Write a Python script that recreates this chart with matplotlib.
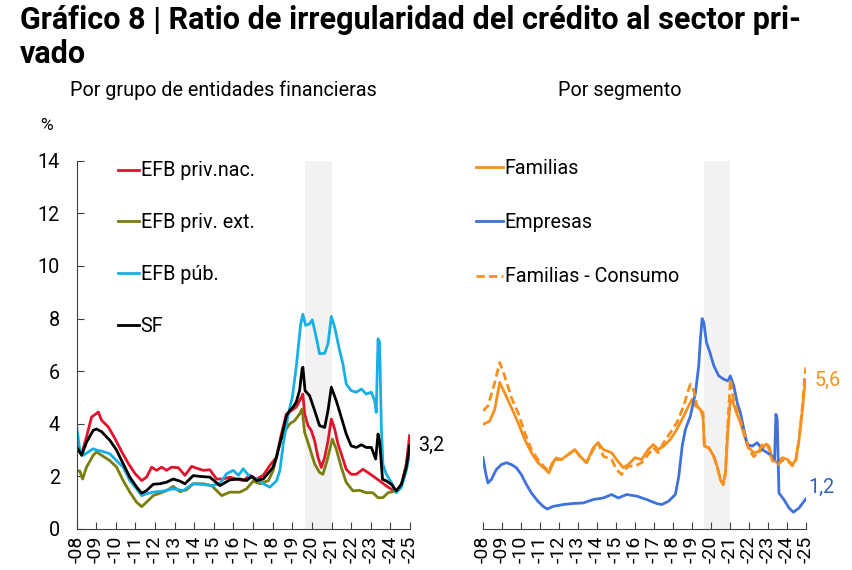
import numpy as np
import matplotlib.pyplot as plt

plt.rcParams['font.family'] = ['Roboto', 'DejaVu Sans']

# eje temporal: años desde ene-2008
years = list(range(2008, 2026))
tick_labels = ['-%02d' % (y % 100) for y in years]
covid = (2019.65, 2021.0)

# Por grupo de entidades financieras
nac_t = [0.0, 0.26, 0.51, 0.77, 1.02, 1.11, 1.28, 1.62, 1.96, 2.31, 2.65, 2.99, 3.32, 3.57, 3.83, 4.08, 4.34, 4.59, 4.85, 5.19,
         5.53, 5.87, 6.21, 6.46, 6.8, 7.14, 7.48, 7.82, 8.16, 8.5, 8.84, 9.18, 9.52, 9.86, 10.19, 10.44, 10.7, 10.95, 11.2, 11.46,
         11.54, 11.63, 11.8, 11.97, 12.14, 12.31, 12.48, 12.65, 12.82, 12.99, 13.16, 13.33, 13.5, 13.75, 14.0, 14.26, 14.6, 14.85, 15.1, 15.45,
         15.79, 16.05, 16.3, 16.56, 16.81, 16.98]
nac_v = [3.12, 2.86, 3.5, 4.26, 4.39, 4.45, 4.13, 3.88, 3.44, 2.93, 2.48, 2.1, 1.84, 1.97, 2.35, 2.23, 2.35, 2.23, 2.35, 2.33,
         2.04, 2.38, 2.29, 2.23, 2.25, 1.9, 1.9, 1.97, 1.9, 1.84, 2.04, 1.9, 2.04, 2.42, 2.72, 3.6, 4.37, 4.5, 4.63, 5.0,
         5.13, 4.37, 3.93, 3.74, 3.35, 2.72, 2.34, 2.72, 3.35, 4.18, 3.8, 3.23, 2.85, 2.27, 2.08, 2.08, 2.27, 2.15, 2.02, 1.83,
         1.64, 1.51, 1.45, 1.64, 2.47, 3.55]

ext_t = [0.0, 0.17, 0.31, 0.51, 0.85, 1.02, 1.28, 1.7, 2.04, 2.38, 2.72, 3.06, 3.32, 3.57, 3.91, 4.25, 4.59, 4.93, 5.27, 5.61,
         5.95, 6.46, 6.89, 7.4, 7.82, 8.33, 8.67, 9.01, 9.35, 9.78, 10.03, 10.29, 10.54, 10.87, 11.12, 11.37, 11.5, 11.63, 11.88, 12.14,
         12.39, 12.56, 12.77, 13.04, 13.24, 13.5, 13.75, 14.09, 14.43, 14.77, 15.1, 15.37, 15.62, 15.88, 16.13, 16.39, 16.64, 16.98]
ext_v = [2.23, 2.2, 1.9, 2.35, 2.8, 2.93, 2.8, 2.6, 2.35, 1.84, 1.4, 1.02, 0.85, 1.02, 1.27, 1.36, 1.46, 1.62, 1.42, 1.49,
         1.72, 1.72, 1.65, 1.27, 1.4, 1.4, 1.53, 1.82, 1.72, 1.84, 2.23, 3.05, 3.63, 4.0, 4.12, 4.37, 4.56, 3.67, 3.1, 2.47,
         2.15, 2.08, 2.59, 3.42, 3.04, 2.34, 1.77, 1.45, 1.47, 1.38, 1.38, 1.19, 1.19, 1.38, 1.42, 1.47, 1.83, 3.1]

pub_t = [0.0, 0.17, 0.34, 0.6, 0.85, 1.02, 1.28, 1.7, 2.04, 2.38, 2.72, 3.06, 3.32, 3.57, 3.91, 4.42, 4.93, 5.44, 5.95, 6.46,
         6.89, 7.31, 7.65, 7.99, 8.25, 8.5, 8.84, 9.18, 9.52, 9.86, 10.2, 10.37, 10.54, 10.8, 11.0, 11.2, 11.43, 11.54, 11.68, 11.88,
         12.02, 12.22, 12.39, 12.65, 12.82, 12.99, 13.16, 13.41, 13.58, 13.75, 14.0, 14.26, 14.52, 14.77, 15.03, 15.2, 15.28, 15.37, 15.45, 15.54,
         15.62, 15.79, 16.05, 16.3, 16.56, 16.81, 16.98]
pub_v = [3.95, 3.0, 2.8, 2.93, 3.05, 3.0, 2.96, 2.86, 2.6, 2.35, 1.84, 1.53, 1.27, 1.34, 1.4, 1.44, 1.53, 1.46, 1.72, 1.69,
         1.65, 1.72, 2.1, 2.23, 2.04, 2.29, 1.97, 1.9, 1.72, 1.59, 1.84, 2.23, 3.24, 4.39, 5.0, 6.15, 7.8, 8.16, 7.74, 7.8,
         7.95, 7.29, 6.66, 6.68, 7.04, 8.08, 7.67, 6.79, 6.28, 5.51, 5.26, 5.2, 5.32, 5.13, 5.2, 4.88, 4.43, 7.23, 7.1, 3.86,
         2.46, 2.08, 1.77, 1.38, 1.58, 2.21, 2.85]

sf_t = [0.0, 0.26, 0.51, 0.85, 1.02, 1.28, 1.70, 2.04, 2.38, 2.72, 3.06, 3.32, 3.57, 3.91, 4.25, 4.59, 4.93, 5.27, 5.53, 5.95,
        6.29, 6.80, 7.31, 7.82, 8.33, 8.67, 8.93, 9.18, 9.52, 9.86, 10.02, 10.2, 10.45, 10.7, 10.87, 11.05, 11.2, 11.37, 11.5, 11.54,
        11.65, 11.88, 12.14, 12.39, 12.65, 12.82, 12.99, 13.24, 13.5, 13.75, 14.0, 14.26, 14.52, 14.77, 15.03, 15.25, 15.37, 15.45, 15.6, 15.79,
        16.05, 16.3, 16.56, 16.81, 16.98]
sf_v = [3.14, 2.8, 3.3, 3.75, 3.8, 3.7, 3.37, 3.0, 2.48, 1.97, 1.6, 1.36, 1.46, 1.7, 1.72, 1.78, 1.9, 1.82, 1.72, 2.03,
        2.0, 1.97, 1.65, 1.87, 1.9, 1.84, 2.0, 1.84, 1.9, 2.2, 2.35, 2.75, 3.5, 4.3, 4.5, 4.65, 4.82, 5.26, 6.09, 6.15,
        5.26, 5.07, 4.5, 3.93, 3.86, 4.5, 5.39, 4.88, 4.24, 3.61, 3.16, 3.1, 3.2, 3.1, 3.1, 2.66, 3.61, 3.35, 1.89, 1.83,
        1.7, 1.45, 1.7, 2.34, 3.16]

# Por segmento
fam_t = [0.0, 0.35, 0.62, 0.88, 1.14, 1.5, 1.85, 2.2, 2.55, 2.9, 3.26, 3.47, 3.78, 4.14, 4.49, 4.84, 5.11, 5.46, 5.81, 6.07,
         6.34, 6.78, 7.04, 7.39, 7.66, 8.01, 8.36, 8.71, 8.98, 9.24, 9.52, 9.87, 10.22, 10.58, 10.84, 11.02, 11.2, 11.46, 11.6, 11.67,
         11.9, 12.16, 12.34, 12.51, 12.66, 12.78, 12.9, 13.04, 13.18, 13.36, 13.57, 13.84, 14.01, 14.28, 14.63, 14.9, 15.08, 15.25, 15.52, 15.78,
         16.05, 16.31, 16.49, 16.66, 16.84, 16.96, 17.02]
fam_v = [3.98, 4.1, 4.55, 5.57, 5.18, 4.61, 4.04, 3.41, 2.9, 2.52, 2.29, 2.13, 2.64, 2.64, 2.83, 3.02, 2.77, 2.52, 3.09, 3.28,
         3.02, 2.9, 2.64, 2.33, 2.45, 2.71, 2.64, 3.02, 3.21, 3.02, 3.15, 3.4, 3.79, 4.29, 4.68, 4.93, 4.68, 4.55, 4.23, 3.15,
         3.09, 2.77, 2.39, 1.88, 1.69, 2.13, 3.66, 4.93, 4.8, 4.42, 4.04, 3.4, 3.09, 2.9, 2.96, 3.21, 3.15, 2.64, 2.52, 2.71,
         2.64, 2.45, 2.64, 3.4, 4.55, 5.44, 5.63]

emp_t = [0.0, 0.14, 0.26, 0.44, 0.7, 0.97, 1.23, 1.5, 1.76, 2.02, 2.29, 2.55, 2.9, 3.17, 3.38, 3.7, 4.23, 4.75, 5.28, 5.81,
         6.34, 6.78, 7.13, 7.57, 8.1, 8.63, 9.15, 9.42, 9.77, 10.14, 10.32, 10.5, 10.67, 10.93, 11.2, 11.37, 11.46, 11.55, 11.64, 11.78,
         11.96, 12.17, 12.43, 12.7, 12.91, 13.04, 13.22, 13.4, 13.57, 13.75, 13.93, 14.19, 14.46, 14.72, 14.98, 15.25, 15.37, 15.44, 15.51, 15.6,
         15.86, 16.13, 16.36, 16.66, 17.01]
emp_v = [2.71, 2.13, 1.75, 1.88, 2.26, 2.45, 2.52, 2.45, 2.33, 2.07, 1.69, 1.37, 1.05, 0.86, 0.76, 0.86, 0.93, 0.97, 0.99, 1.12,
         1.18, 1.31, 1.18, 1.31, 1.25, 1.12, 0.97, 0.93, 1.05, 1.31, 2.0, 3.15, 3.79, 4.29, 5.18, 6.2, 7.22, 8.0, 7.85, 7.09,
         6.71, 6.2, 5.82, 5.69, 5.63, 5.82, 5.44, 4.8, 4.42, 3.79, 3.21, 3.15, 3.28, 3.02, 2.9, 2.77, 2.64, 4.36, 4.17, 1.37,
         1.12, 0.8, 0.64, 0.8, 1.14]

con_t = [0.0, 0.26, 0.62, 0.88, 1.14, 1.5, 1.85, 2.2, 2.55, 2.9, 3.26, 3.47, 3.78, 4.14, 4.49, 4.84, 5.11, 5.46, 5.81, 6.07,
         6.34, 6.78, 7.04, 7.3, 7.66, 8.01, 8.36, 8.71, 8.98, 9.24, 9.52, 9.87, 10.22, 10.58, 10.84, 10.93, 11.11, 11.28, 11.46, 11.6,
         11.67, 11.9, 12.16, 12.34, 12.51, 12.66, 12.78, 12.9, 13.04, 13.18, 13.36, 13.57, 13.84, 14.01, 14.28, 14.5, 14.8, 15.0, 15.25, 15.52,
         15.78, 16.05, 16.31, 16.49, 16.66, 16.84, 16.96, 17.02]
con_v = [4.49, 4.68, 5.57, 6.33, 5.82, 4.99, 4.42, 3.66, 3.02, 2.64, 2.33, 2.2, 2.71, 2.64, 2.83, 3.02, 2.77, 2.52, 3.02, 3.28,
         2.77, 2.64, 2.26, 2.07, 2.39, 2.39, 2.52, 2.83, 3.09, 2.9, 3.28, 3.66, 4.04, 4.68, 5.31, 5.5, 5.25, 4.68, 4.55, 4.42,
         3.15, 3.09, 2.77, 2.39, 1.88, 1.69, 2.13, 3.9, 5.69, 5.0, 4.6, 4.1, 3.5, 3.0, 2.75, 2.9, 3.3, 3.2, 2.6, 2.45,
         2.6, 2.6, 2.4, 2.6, 3.4, 4.7, 5.8, 6.14]

RED, OLIVE, CYAN = '#e3132c', '#7b7d0c', '#16b0e6'
ORANGE, BLUE = '#f7901e', '#3f72dc'
AXCOL = '#404040'
W, H = 852, 570
FS = 14.2


def yr(t):
    return 2008 + np.array(t)


fig = plt.figure(figsize=(W / 100, H / 100), dpi=100)

# titulo (dos lineas)
tfont = dict(fontweight='bold', fontsize=22)
fig.text(20 / W, 1 - 29 / H, 'Gráfico 8 | Ratio de irregularidad del crédito al sector pri-', va='baseline', **tfont)
fig.text(20 / W, 1 - 63 / H, 'vado', va='baseline', **tfont)
fig.text(223 / W, 1 - 90 / H, 'Por grupo de entidades financieras', ha='center', va='center', fontsize=FS)
fig.text(620 / W, 1 - 90 / H, 'Por segmento', ha='center', va='center', fontsize=FS)
fig.text(46 / W, 1 - 126 / H, '%', ha='center', va='center', fontsize=12.5)

y0, y14 = 529, 160.7
ax1 = fig.add_axes([76.5 / W, 1 - y0 / H, (410 - 76.5) / W, (y0 - y14) / H])
ax2 = fig.add_axes([483 / W, 1 - y0 / H, (805.5 - 483) / W, (y0 - y14) / H])

for ax in (ax1, ax2):
    ax.axvspan(*covid, color='#f2f2f2', zorder=0, lw=0)
    ax.set_xlim(2008, 2025)
    ax.set_ylim(0, 14)
    ax.set_xticks(years)
    ax.set_xticklabels(tick_labels, rotation=90, fontsize=14)
    ax.tick_params(axis='x', direction='in', length=5, pad=5, color=AXCOL)
    for s in ('top', 'right'):
        ax.spines[s].set_visible(False)
    ax.spines['bottom'].set_color(AXCOL)

ax1.plot(yr(nac_t), nac_v, color=RED, lw=2, label='EFB priv.nac.')
ax1.plot(yr(ext_t), ext_v, color=OLIVE, lw=2, label='EFB priv. ext.')
ax1.plot(yr(pub_t), pub_v, color=CYAN, lw=2, label='EFB púb.')
ax1.plot(yr(sf_t), sf_v, color='black', lw=2, label='SF')
ax1.set_yticks(range(0, 15, 2))
ax1.tick_params(axis='y', direction='in', length=5, pad=12, labelsize=FS, color=AXCOL)
ax1.spines['left'].set_color(AXCOL)
ax1.annotate('3,2', (yr(sf_t)[-1], sf_v[-1]), xytext=(6, 0), textcoords='offset points',
             va='center', fontsize=FS)
ax1.legend(loc='upper left', bbox_to_anchor=(0.124, 0.998), frameon=False, fontsize=FS,
           handlelength=1.05, handletextpad=0.1, labelspacing=1.66, borderaxespad=0, borderpad=0)

ax2.plot(yr(fam_t), fam_v, color=ORANGE, lw=2, label='Familias')
ax2.plot(yr(emp_t), emp_v, color=BLUE, lw=2, label='Empresas')
ax2.plot(yr(con_t), con_v, color=ORANGE, lw=2, ls=(0, (3, 1.5)), label='Familias - Consumo')
ax2.spines['left'].set_visible(False)
ax2.tick_params(axis='y', left=False, labelleft=False)
ax2.annotate('5,6', (yr(fam_t)[-1], fam_v[-1]), xytext=(6, 0), textcoords='offset points',
             va='center', fontsize=FS, color=ORANGE)
ax2.annotate('1,2', (yr(emp_t)[-1], emp_v[-1]), xytext=(2, 8), textcoords='offset points',
             va='center', fontsize=FS, color='#2f5fc4')
ax2.legend(loc='upper left', bbox_to_anchor=(-0.022, 1.004), frameon=False, fontsize=FS,
           handlelength=1.35, handletextpad=0.1, labelspacing=1.78, borderaxespad=0, borderpad=0)

fig.savefig('out.png', dpi=100)
